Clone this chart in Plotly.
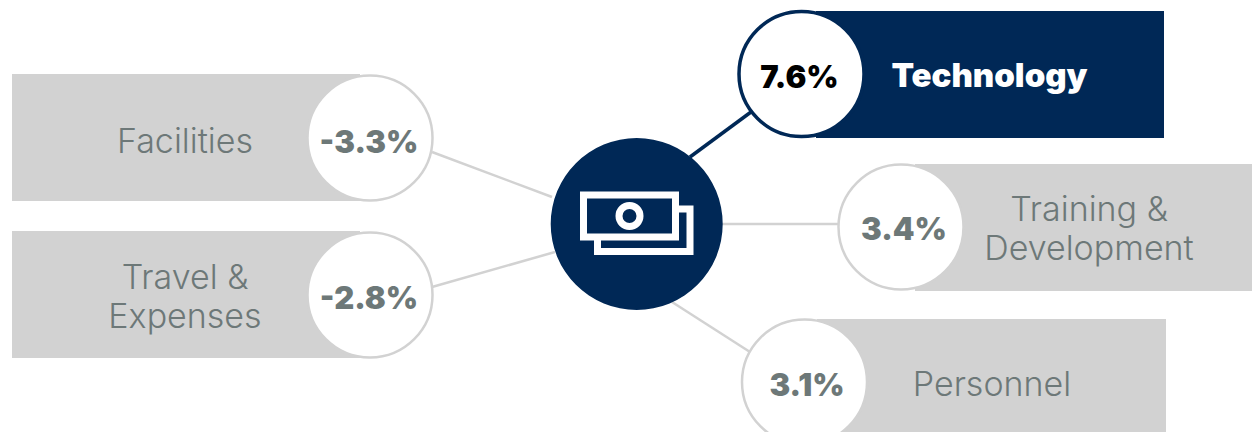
import plotly.graph_objects as go

# Budget categories and their year-on-year change, in percent
categories = ["Facilities", "Travel &<br>Expenses", "Technology", "Training &<br>Development", "Personnel"]
changes = [-3.3, -2.8, 7.6, 3.4, 3.1]

NAVY = "#002856"
GREY = "#d2d2d2"
TEXT_GREY = "#6d7878"
BODY_FONT = "Inter"
LINE_GAP = 39

# Canvas layout, in pixels of the 1252x432 diagram
panel_x0 = [12, 12, 816, 915, 817]
panel_x1 = [360, 360, 1164, 1252, 1166]
panel_y0 = [74, 231, 11, 164, 319]
panel_y1 = [201, 358, 138, 291, 446]
bubble_x = [370, 370, 801.5, 901, 804.5]
bubble_y = [138, 295, 74, 227, 382]
bubble_r = 62.5
value_x = [369, 369, 799.5, 904, 807]
value_y = [145, 301, 80, 232, 388]
label_x = [185, 185, 989.5, 1089, 992]
label_y = [144, 300, 79, 232, 387]
spoke_start = [(432, 152), (432, 287), (751, 112), (838, 224), (750, 352)]
spoke_end = [(552, 197), (555, 252), (690, 157), (722, 224), (672, 302)]
hub = (636.7, 224)
hub_r = 86

highlight = categories.index("Technology")

shapes = []

# Connecting spokes between the hub and each bubble
for i, (start, end) in enumerate(zip(spoke_start, spoke_end)):
    shapes.append(dict(type="line", x0=start[0], y0=start[1], x1=end[0], y1=end[1],
                       layer="below",
                       line=dict(color=NAVY if i == highlight else GREY, width=3.5 if i == highlight else 2.5)))

# Category panels with their value bubbles on top
for i in range(len(categories)):
    color = NAVY if i == highlight else GREY
    shapes.append(dict(type="rect", x0=panel_x0[i], x1=panel_x1[i], y0=panel_y0[i], y1=panel_y1[i],
                       layer="below", fillcolor=color, line=dict(width=0)))
for i in range(len(categories)):
    color = NAVY if i == highlight else GREY
    shapes.append(dict(type="circle", layer="below",
                       x0=bubble_x[i] - bubble_r, x1=bubble_x[i] + bubble_r,
                       y0=bubble_y[i] - bubble_r, y1=bubble_y[i] + bubble_r,
                       fillcolor="white", line=dict(color=color, width=3.5 if i == highlight else 2.5)))

# Central hub
shapes.append(dict(type="circle", layer="below",
                   x0=hub[0] - hub_r, x1=hub[0] + hub_r, y0=hub[1] - hub_r, y1=hub[1] + hub_r,
                   fillcolor=NAVY, line=dict(width=0)))

# Banknote icon: front note, the note behind it, and the coin mark
icon_line = dict(color="white", width=7)
shapes.append(dict(type="rect", x0=583.5, x1=675.5, y0=195, y1=237, layer="above", line=icon_line))
shapes.append(dict(type="path", path="M 679 209 L 690 209 L 690 251.5 L 597.5 251.5 L 597.5 240",
                   layer="above", line=icon_line))
shapes.append(dict(type="circle", x0=619, x1=640, y0=205.5, y1=226.5, layer="above", line=icon_line))

fig = go.Figure()

value_colors = ["black" if i == highlight else TEXT_GREY for i in range(len(categories))]
fig.add_trace(go.Scatter(
    x=value_x, y=value_y, mode="text",
    text=[f"{v:.1f}%" for v in changes],
    textposition="middle center",
    textfont=dict(family=BODY_FONT, size=31, weight=900, color=value_colors),
    hoverinfo="skip",
))

# Wrapped labels are laid out one line at a time to keep a tight leading
line_x, line_y, line_text = [], [], []
for i in range(len(categories)):
    if i == highlight:
        continue
    parts = categories[i].split("<br>")
    for n, part in enumerate(parts):
        line_x.append(label_x[i])
        line_y.append(label_y[i] + (n - (len(parts) - 1) / 2) * LINE_GAP)
        line_text.append(part)

fig.add_trace(go.Scatter(
    x=line_x, y=line_y, mode="text",
    text=line_text,
    textposition="middle center",
    textfont=dict(family=BODY_FONT, size=34, weight=300, color=TEXT_GREY),
    hoverinfo="skip",
))
fig.add_trace(go.Scatter(
    x=[label_x[highlight]], y=[label_y[highlight]], mode="text",
    text=[categories[highlight]],
    textposition="middle center",
    textfont=dict(family=BODY_FONT, size=33, weight=900, color="white"),
    hoverinfo="skip",
))

fig.update_layout(
    width=1252, height=432,
    margin=dict(l=0, r=0, t=0, b=0),
    paper_bgcolor="white", plot_bgcolor="white",
    showlegend=False,
    shapes=shapes,
    xaxis=dict(range=[0, 1252], visible=False, fixedrange=True),
    yaxis=dict(range=[432, 0], visible=False, fixedrange=True),
)

fig.write_html("out.html", config=dict(displayModeBar=False))
